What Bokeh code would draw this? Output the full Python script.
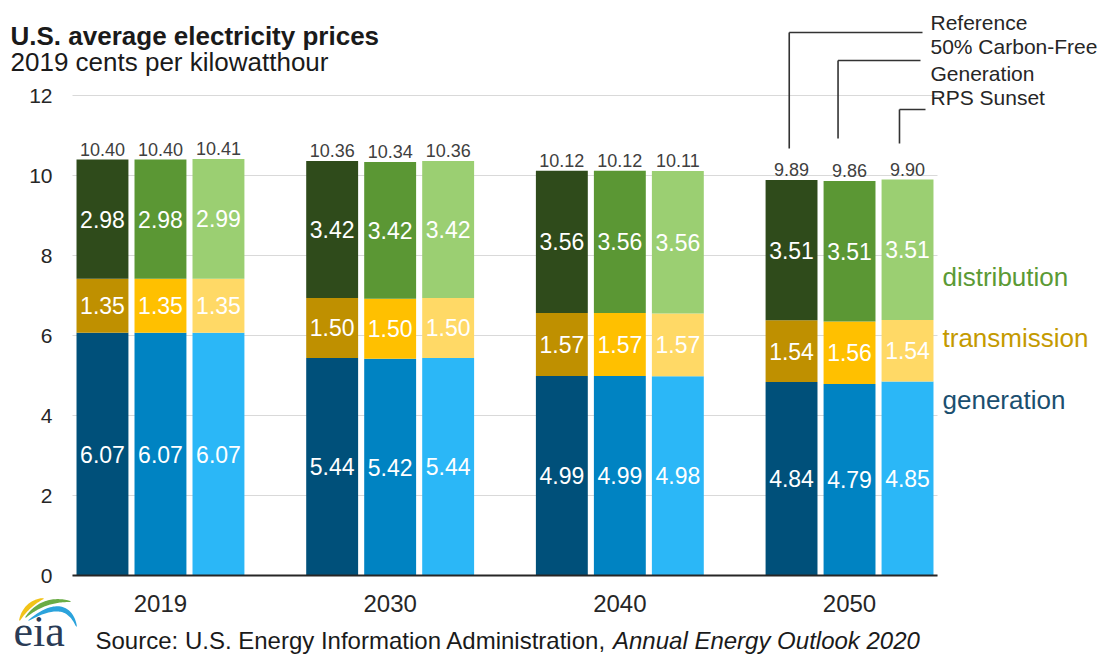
import numpy as np
from bokeh.plotting import figure
from bokeh.models import ColumnDataSource, FixedTicker, Label, PolyAnnotation, Range1d
from bokeh.embed import file_html
from bokeh.resources import INLINE
from bokeh.core.properties import value

# ---------------- data ----------------
years = ["2019", "2030", "2040", "2050"]
scenarios = ["Reference", "50% Carbon-Free\nGeneration", "RPS Sunset"]
components = ["generation", "transmission", "distribution"]

gen_reference = [6.07, 5.44, 4.99, 4.84]
gen_carbon_free = [6.07, 5.42, 4.99, 4.79]
gen_rps_sunset = [6.07, 5.44, 4.98, 4.85]

trans_reference = [1.35, 1.50, 1.57, 1.54]
trans_carbon_free = [1.35, 1.50, 1.57, 1.56]
trans_rps_sunset = [1.35, 1.50, 1.57, 1.54]

dist_reference = [2.98, 3.42, 3.56, 3.51]
dist_carbon_free = [2.98, 3.42, 3.56, 3.51]
dist_rps_sunset = [2.99, 3.42, 3.56, 3.51]

total_reference = [10.40, 10.36, 10.12, 9.89]
total_carbon_free = [10.40, 10.34, 10.12, 9.86]
total_rps_sunset = [10.41, 10.36, 10.11, 9.90]

y_ticks = [0, 2, 4, 6, 8, 10, 12]

# ---------------- styles / layout ----------------
FONT = "Liberation Sans"
colors = [  # per scenario: generation, transmission, distribution
    ["#00507a", "#bf9000", "#2f4b1b"],
    ["#0083c2", "#ffc000", "#5b9734"],
    ["#2bb7f7", "#ffd966", "#9bcf72"],
]
legend_colors = ["#1b4f6f", "#c49a00", "#5b9a35"]

W, H = 1100, 660
X0, X1 = -0.383, 3.383          # plot-area x extent (data)
PLOT_L, PLOT_R = 72, 937        # plot-area x extent (pixels)
PXX = (PLOT_R - PLOT_L) / (X1 - X0)
PXY = 40.0
BASE_PX = 575                   # pixel row of y = 0


def rx(px):  # pixel x -> data x
    return X0 + (px - PLOT_L) / PXX


def ry(py):  # pixel y -> data y
    return (BASE_PX - py) / PXY


OFFSET = 0.2525
BAR_W = 0.226

p = figure(width=W, height=H, output_backend="svg", toolbar_location=None,
           x_range=Range1d(rx(0), rx(W)), y_range=Range1d(ry(H), ry(0)),
           min_border=0, outline_line_color=None, background_fill_color="white")

# ---------------- bars ----------------
gens = [gen_reference, gen_carbon_free, gen_rps_sunset]
trans = [trans_reference, trans_carbon_free, trans_rps_sunset]
dists = [dist_reference, dist_carbon_free, dist_rps_sunset]
totals = [total_reference, total_carbon_free, total_rps_sunset]

rows = dict(x=[], bottom=[], top=[], mid=[], color=[], label=[])
tot = dict(x=[], y=[], label=[])
for si in range(len(scenarios)):
    for yi in range(len(years)):
        xc = yi + (si - 1) * OFFSET
        base = 0.0
        for ci, vals in enumerate([gens[si], trans[si], dists[si]]):
            v = vals[yi]
            rows["x"].append(xc)
            rows["bottom"].append(base)
            rows["top"].append(base + v)
            rows["mid"].append(base + v / 2)
            rows["color"].append(colors[si][ci])
            rows["label"].append(f"{v:.2f}")
            base += v
        tot["x"].append(xc)
        tot["y"].append(base + 0.1)
        tot["label"].append(f"{totals[si][yi]:.2f}")

src = ColumnDataSource(rows)
p.vbar(x="x", width=BAR_W, bottom="bottom", top="top", fill_color="color",
       line_color=None, source=src)
p.text(x="x", y="mid", text="label", source=src, text_align="center",
       text_baseline="middle", text_color="white", text_font_size="23px",
       text_font=value(FONT))
p.text(x="x", y="y", text="label", source=ColumnDataSource(tot), text_align="center",
       text_baseline="bottom", text_color="#404040", text_font_size="18px",
       text_font=value(FONT))

# ---------------- scenario leader lines (on 2050 bars) ----------------
line_bottom_px = [148, 138, 143]
line_top_px = [32, 60, 109]
line_end_px = [922, 920, 925]
line_xoff = [-0.01, -0.05, -0.035]
last = len(years) - 1
vx, vy0, vy1, hx1, hy = [], [], [], [], []
for si in range(len(scenarios)):
    xc = last + (si - 1) * OFFSET + line_xoff[si]
    vx.append(xc)
    vy0.append(ry(line_bottom_px[si]))
    vy1.append(ry(line_top_px[si]))
    hx1.append(rx(line_end_px[si]))
    hy.append(ry(line_top_px[si]))
p.segment(x0=vx, y0=vy0, x1=vx, y1=vy1, line_color="#333333", line_width=1.6)
p.segment(x0=vx, y0=hy, x1=hx1, y1=hy, line_color="#333333", line_width=1.6)

scen_label_y_px = [22, 59.5, 97]
for si, name in enumerate(scenarios):
    p.add_layout(Label(x=rx(930), y=ry(scen_label_y_px[si]), text=name,
                       text_font=FONT, text_font_size="21px", text_color="#262626",
                       text_baseline="middle", text_align="left", text_line_height=1.2))

# ---------------- component labels ----------------
comp_label_y_px = [399, 337, 276]
for ci, name in enumerate(components):
    p.add_layout(Label(x=rx(942), y=ry(comp_label_y_px[ci]), text=name,
                       text_font=FONT, text_font_size="26px", text_color=legend_colors[ci],
                       text_baseline="middle", text_align="left"))

# ---------------- titles & source ----------------
p.add_layout(Label(x=rx(10), y=ry(35), text="U.S. average electricity prices",
                   text_font=FONT, text_font_size="26px", text_font_style="bold",
                   text_color="#1a1a1a", text_baseline="middle"))
p.add_layout(Label(x=rx(10), y=ry(61), text="2019 cents per kilowatthour",
                   text_font=FONT, text_font_size="26px", text_color="#1a1a1a",
                   text_baseline="middle"))
p.add_layout(Label(x=rx(95), y=ry(640), text="Source: U.S. Energy Information Administration, ",
                   text_font=FONT, text_font_size="24px", text_color="#1a1a1a",
                   text_baseline="middle"))
p.add_layout(Label(x=rx(612.5), y=ry(640), text="Annual Energy Outlook 2020",
                   text_font=FONT, text_font_size="24px", text_font_style="italic",
                   text_color="#1a1a1a", text_baseline="middle"))

# ---------------- eia logo ----------------
p.add_layout(Label(x=rx(13), y=ry(631), text="eia", text_font="Liberation Serif",
                   text_font_size="44px", text_color="#2a3b55",
                   text_baseline="middle"))


def swoosh(p0, p1, p2, wmax, color):
    t = np.linspace(0, 1, 40)
    P0, P1, P2 = np.array(p0, float), np.array(p1, float), np.array(p2, float)
    B = ((1 - t) ** 2)[:, None] * P0 + (2 * (1 - t) * t)[:, None] * P1 + (t ** 2)[:, None] * P2
    D = (2 * (1 - t))[:, None] * (P1 - P0) + (2 * t)[:, None] * (P2 - P1)
    N = np.stack([-D[:, 1], D[:, 0]], axis=1)
    N /= np.linalg.norm(N, axis=1)[:, None]
    w = 0.4 + wmax * np.sin(np.pi * t) ** 0.8
    up = B + N * w[:, None]
    lo = B - N * w[:, None]
    pts = np.vstack([up, lo[::-1]])
    p.add_layout(PolyAnnotation(xs=[rx(v) for v in pts[:, 0]], ys=[ry(v) for v in pts[:, 1]],
                                fill_color=color, fill_alpha=1.0, line_color=None))


swoosh((19, 620), (26, 603), (43, 598), 2.0, "#f2c318")
swoosh((25, 617), (43, 597), (70, 601), 2.0, "#6aac45")
swoosh((28, 620), (66, 594), (76, 626), 2.2, "#2ba3dc")

# ---------------- axes & grid ----------------
p.yaxis.fixed_location = X0
p.yaxis.bounds = (0, 12)
p.yaxis.ticker = FixedTicker(ticks=y_ticks)
p.yaxis.axis_line_color = None
p.yaxis.major_tick_line_color = None
p.yaxis.minor_tick_line_color = None
p.yaxis.major_tick_in = 0
p.yaxis.major_tick_out = 0
p.yaxis.major_label_standoff = 20
p.yaxis.major_label_text_font = FONT
p.yaxis.major_label_text_font_size = "21px"
p.yaxis.major_label_text_color = "#262626"

p.xaxis.fixed_location = 0
p.xaxis.bounds = (X0, X1)
p.xaxis.ticker = FixedTicker(ticks=list(range(len(years))))
p.xaxis.major_label_overrides = {i: y for i, y in enumerate(years)}
p.xaxis.axis_line_color = "#262626"
p.xaxis.axis_line_width = 2
p.xaxis.major_tick_line_color = None
p.xaxis.minor_tick_line_color = None
p.xaxis.major_tick_in = 0
p.xaxis.major_tick_out = 0
p.xaxis.major_label_standoff = 19
p.xaxis.major_label_text_font = FONT
p.xaxis.major_label_text_font_size = "24px"
p.xaxis.major_label_text_color = "#262626"

p.xgrid.visible = False
p.ygrid.grid_line_color = "#d9d9d9"
p.ygrid.grid_line_width = 1
p.ygrid.cross_bounds = (X0, X1)

open("out.html", "w").write(file_html(p, INLINE))
